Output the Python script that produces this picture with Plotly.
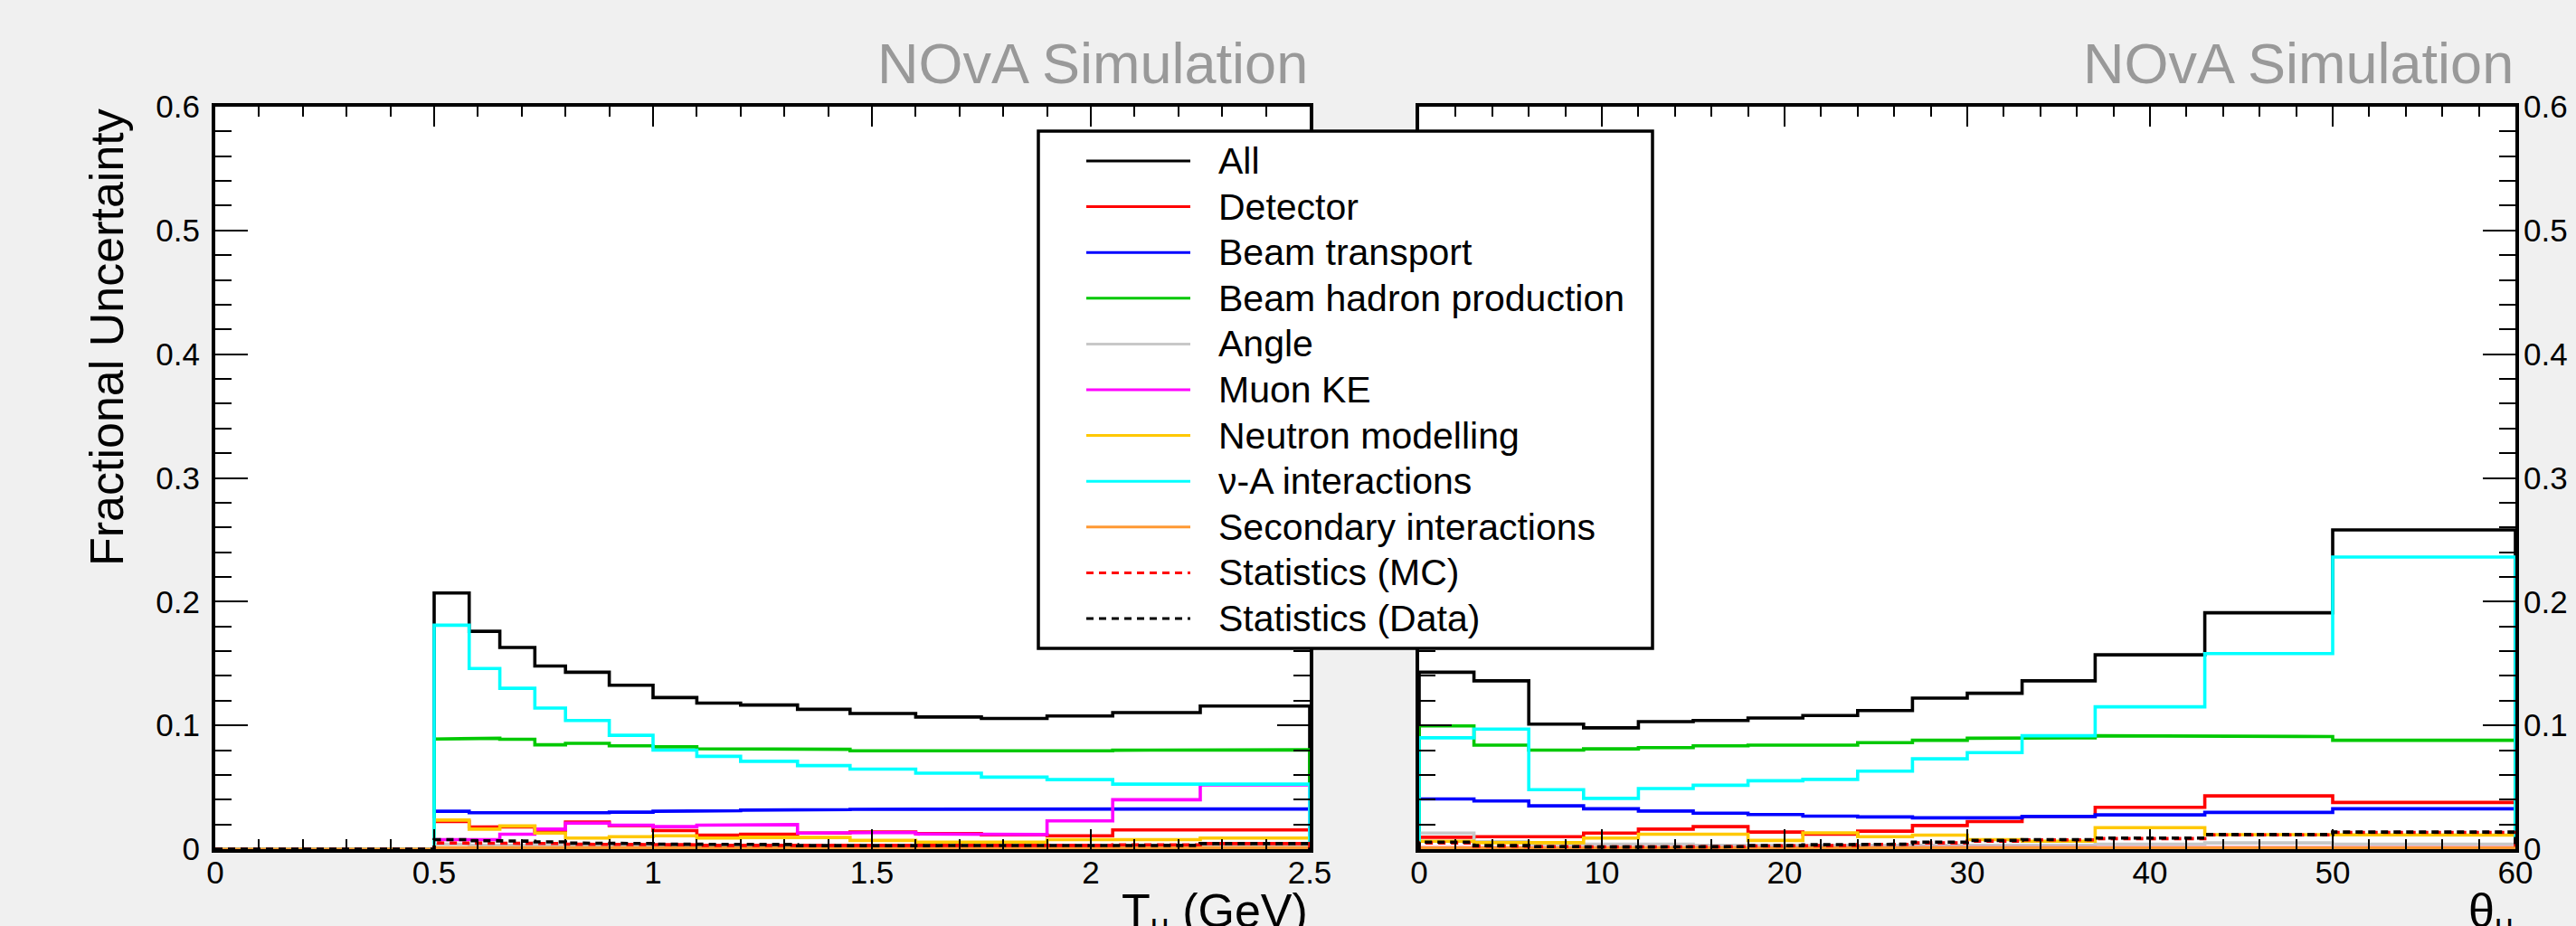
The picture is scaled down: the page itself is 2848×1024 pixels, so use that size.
import plotly.graph_objects as go

W, H = 2848, 1024

# ---------------- data ----------------
# Left panel: muon kinetic energy bins (GeV); first bin 0-0.5 is empty
t_edges = [0, 0.5, 0.58, 0.65, 0.73, 0.8, 0.9, 1.0, 1.1, 1.2, 1.33, 1.45, 1.6, 1.75, 1.9, 2.05, 2.25, 2.5]
t_all = [0, 0.207, 0.176, 0.163, 0.148, 0.143, 0.1325, 0.1225, 0.118, 0.1165, 0.113, 0.1096, 0.1068, 0.1056, 0.1076, 0.1104, 0.1157]
t_detector = [0, 0.0223, 0.0179, 0.018, 0.015, 0.0218, 0.019, 0.015, 0.0113, 0.0121, 0.013, 0.0138, 0.0125, 0.0116, 0.0108, 0.0155, 0.0155]
t_beam_transport = [0, 0.0306, 0.0294, 0.029, 0.029, 0.0294, 0.0299, 0.0306, 0.031, 0.0315, 0.032, 0.0322, 0.0325, 0.0325, 0.0325, 0.0325, 0.0325]
t_hadron_prod = [0, 0.089, 0.0896, 0.0888, 0.0843, 0.0855, 0.0835, 0.0827, 0.0811, 0.0811, 0.0807, 0.0795, 0.0791, 0.0791, 0.0795, 0.0799, 0.0803]
t_angle = [0, 0.004, 0.003, 0.003, 0.003, 0.003, 0.003, 0.003, 0.003, 0.003, 0.003, 0.003, 0.003, 0.003, 0.003, 0.003, 0.003]
t_muon_ke = [0, 0.0077, 0.0077, 0.0121, 0.0162, 0.021, 0.0194, 0.0182, 0.0194, 0.0198, 0.013, 0.0135, 0.0122, 0.0118, 0.0228, 0.0399, 0.052]
t_neutron = [0, 0.0235, 0.0162, 0.0187, 0.013, 0.0089, 0.0101, 0.0108, 0.0089, 0.0096, 0.0094, 0.007, 0.0057, 0.0057, 0.0077, 0.0077, 0.0089]
t_nua = [0, 0.181, 0.146, 0.130, 0.114, 0.104, 0.092, 0.080, 0.075, 0.071, 0.0675, 0.0647, 0.0614, 0.0582, 0.0562, 0.0525, 0.0525]
t_secondary = [0, 0.001, 0.001, 0.001, 0.001, 0.001, 0.001, 0.001, 0.001, 0.001, 0.001, 0.001, 0.001, 0.001, 0.001, 0.001, 0.001]
t_stat_mc = [0, 0.005, 0.005, 0.0045, 0.0045, 0.004, 0.0035, 0.0035, 0.003, 0.003, 0.0028, 0.0028, 0.0028, 0.0028, 0.003, 0.0035, 0.0045]
t_stat_data = [0, 0.0077, 0.0069, 0.0064, 0.0059, 0.0049, 0.0045, 0.004, 0.0038, 0.0037, 0.0028, 0.0028, 0.0028, 0.0028, 0.0028, 0.003, 0.0045]

# Right panel: muon angle bins (degrees)
th_edges = [0, 3, 6, 9, 12, 15, 18, 21, 24, 27, 30, 33, 37, 43, 50, 60]
th_all = [0.143, 0.136, 0.101, 0.098, 0.103, 0.104, 0.106, 0.108, 0.112, 0.122, 0.126, 0.136, 0.157, 0.191, 0.258]
th_detector = [0.0096, 0.0101, 0.0101, 0.013, 0.0162, 0.0182, 0.0138, 0.0121, 0.0145, 0.0191, 0.0223, 0.0265, 0.0338, 0.043, 0.0377]
th_beam_transport = [0.0406, 0.0389, 0.035, 0.0326, 0.0308, 0.0291, 0.0279, 0.0267, 0.026, 0.0253, 0.0253, 0.0264, 0.0277, 0.0297, 0.0326]
th_hadron_prod = [0.0996, 0.084, 0.080, 0.081, 0.082, 0.0835, 0.084, 0.084, 0.086, 0.088, 0.0896, 0.090, 0.0916, 0.091, 0.088]
th_angle = [0.013, 0.006, 0.004, 0.004, 0.004, 0.003, 0.003, 0.003, 0.003, 0.003, 0.003, 0.003, 0.004, 0.005, 0.004]
th_muon_ke = [0.001, 0.001, 0.001, 0.001, 0.001, 0.001, 0.001, 0.001, 0.001, 0.001, 0.001, 0.001, 0.001, 0.001, 0.001]
th_neutron = [0.0064, 0.0052, 0.0052, 0.0089, 0.0121, 0.0121, 0.007, 0.0132, 0.0101, 0.0113, 0.0077, 0.0064, 0.0174, 0.0118, 0.0113]
th_nua = [0.090, 0.097, 0.048, 0.041, 0.049, 0.0516, 0.0553, 0.0564, 0.063, 0.073, 0.078, 0.0916, 0.115, 0.158, 0.236]
th_secondary = [0.001, 0.001, 0.001, 0.001, 0.001, 0.001, 0.001, 0.001, 0.001, 0.001, 0.001, 0.001, 0.001, 0.001, 0.001]
th_stat_mc = [0.005, 0.0025, 0.002, 0.0018, 0.0018, 0.002, 0.0025, 0.003, 0.0038, 0.005, 0.0065, 0.0075, 0.0085, 0.0115, 0.0135]
th_stat_data = [0.0057, 0.0028, 0.002, 0.0017, 0.0017, 0.002, 0.0028, 0.0035, 0.004, 0.0057, 0.007, 0.0077, 0.0089, 0.0118, 0.0138]

labels = ["All", "Detector", "Beam transport", "Beam hadron production", "Angle", "Muon KE",
          "Neutron modelling", "\u03bd-A interactions", "Secondary interactions",
          "Statistics (MC)", "Statistics (Data)"]
colors = ["#000000", "#ff0000", "#0000ff", "#00c800", "#c8c8c8", "#ff00ff",
          "#ffc800", "#00ffff", "#ff9933", "#ff0000", "#000000"]
dashes = ["solid"] * 9 + ["8px,6px", "8px,6px"]

t_series = [t_all, t_detector, t_beam_transport, t_hadron_prod, t_angle, t_muon_ke,
            t_neutron, t_nua, t_secondary, t_stat_mc, t_stat_data]
th_series = [th_all, th_detector, th_beam_transport, th_hadron_prod, th_angle, th_muon_ke,
             th_neutron, th_nua, th_secondary, th_stat_mc, th_stat_data]

FONT = "Liberation Sans, Arial, Helvetica, sans-serif"


def step_xy(edges, vals):
    xs, ys = [edges[0]], [0]
    for i, v in enumerate(vals):
        xs += [edges[i], edges[i + 1]]
        ys += [v, v]
    xs.append(edges[-1])
    ys.append(0)
    return xs, ys


def px(x):
    return x / W


def py(y):
    return 1 - y / H


fig = go.Figure()
for vals, name, col, dsh in zip(t_series, labels, colors, dashes):
    xs, ys = step_xy(t_edges, vals)
    fig.add_trace(go.Scatter(x=xs, y=ys, mode="lines", name=name, xaxis="x", yaxis="y",
                             line=dict(color=col, width=3.6, dash=dsh), showlegend=False,
                             hoverinfo="skip"))
for vals, name, col, dsh in zip(th_series, labels, colors, dashes):
    xs, ys = step_xy(th_edges, vals)
    fig.add_trace(go.Scatter(x=xs, y=ys, mode="lines", name=name, xaxis="x2", yaxis="y2",
                             line=dict(color=col, width=3.6, dash=dsh), showlegend=False,
                             hoverinfo="skip"))

L0, L1 = 238, 1448
R0, R1 = 1569, 2781
TOP, BOT = 118, 939

tickfont = dict(family=FONT, size=35, color="black")
common = dict(showgrid=False, zeroline=False, showline=True, linecolor="black", linewidth=4,
              mirror="allticks", ticks="inside", tickcolor="black", tickwidth=2,
              tickfont=tickfont, automargin=False)

fig.update_layout(
    width=W, height=H, margin=dict(l=0, r=0, t=0, b=0, pad=0),
    paper_bgcolor="#f0f0f0", plot_bgcolor="white",
    xaxis=dict(domain=[px(L0), px(L1)], anchor="y", range=[0, 2.5], tick0=0, dtick=0.5,
               ticklen=22, minor=dict(ticks="inside", ticklen=11, dtick=0.1, tick0=0,
                                      tickcolor="black", tickwidth=2),
               ticklabelstandoff=-8, **common),
    yaxis=dict(domain=[py(BOT), py(TOP)], anchor="x", range=[0, 0.6], tick0=0, dtick=0.1,
               ticklen=36, minor=dict(ticks="inside", ticklen=18, dtick=0.02, tick0=0,
                                      tickcolor="black", tickwidth=2),
               ticklabelstandoff=6, **common),
    xaxis2=dict(domain=[px(R0), px(R1)], anchor="y2", range=[0, 60], tick0=0, dtick=10,
                ticklen=22, minor=dict(ticks="inside", ticklen=11, dtick=2, tick0=0,
                                       tickcolor="black", tickwidth=2),
                ticklabelstandoff=-8, **common),
    yaxis2=dict(domain=[py(BOT), py(TOP)], anchor="x2", side="right", range=[0, 0.6], tick0=0,
                dtick=0.1, ticklen=36, minor=dict(ticks="inside", ticklen=18, dtick=0.02, tick0=0,
                                                  tickcolor="black", tickwidth=2),
                ticklabelstandoff=-2, **common),
)

ann = []
sim_font = dict(family=FONT, size=63, color="#999999")
ann.append(dict(text="NOvA Simulation", x=px(L1), y=py(70), xref="paper", yref="paper",
                xanchor="right", yanchor="middle", showarrow=False, font=sim_font))
ann.append(dict(text="NOvA Simulation", x=px(R1), y=py(70), xref="paper", yref="paper",
                xanchor="right", yanchor="middle", showarrow=False, font=sim_font))
title_font = dict(family=FONT, size=52, color="black")
ann.append(dict(text="Fractional Uncertainty", x=px(118), y=py(TOP), xref="paper", yref="paper",
                xanchor="center", yanchor="top", textangle=-90, showarrow=False, font=title_font))
ann.append(dict(text="T<sub>\u03bc</sub> (GeV)", x=px(L1), y=py(976), xref="paper", yref="paper",
                xanchor="right", yanchor="top", showarrow=False, font=title_font))
ann.append(dict(text="\u03b8<sub>\u03bc</sub>", x=px(R1), y=py(976), xref="paper", yref="paper",
                xanchor="right", yanchor="top", showarrow=False, font=title_font))

# legend box (drawn manually to match the ROOT TLegend layout)
LG_X0, LG_X1, LG_Y0, LG_Y1 = 1148, 1827, 145, 717
ROW0, ROWSTEP = 178, 50.6
shapes = [dict(type="rect", xref="paper", yref="paper", x0=px(LG_X0), x1=px(LG_X1),
               y0=py(LG_Y1), y1=py(LG_Y0), fillcolor="white", line=dict(color="black", width=3.5),
               layer="above")]
leg_font = dict(family=FONT, size=41, color="black")
for i, (name, col, dsh) in enumerate(zip(labels, colors, dashes)):
    yy = ROW0 + i * ROWSTEP
    shapes.append(dict(type="line", xref="paper", yref="paper", x0=px(1201), x1=px(1316),
                       y0=py(yy), y1=py(yy), line=dict(color=col, width=3, dash=dsh), layer="above"))
    ann.append(dict(text=name, x=px(1345), y=py(yy), xref="paper", yref="paper",
                    xanchor="left", yanchor="middle", showarrow=False, font=leg_font))

fig.update_layout(annotations=ann, shapes=shapes)

fig.write_html("out.html", config={"displayModeBar": False},
               post_script="document.body.style.margin='0';")
